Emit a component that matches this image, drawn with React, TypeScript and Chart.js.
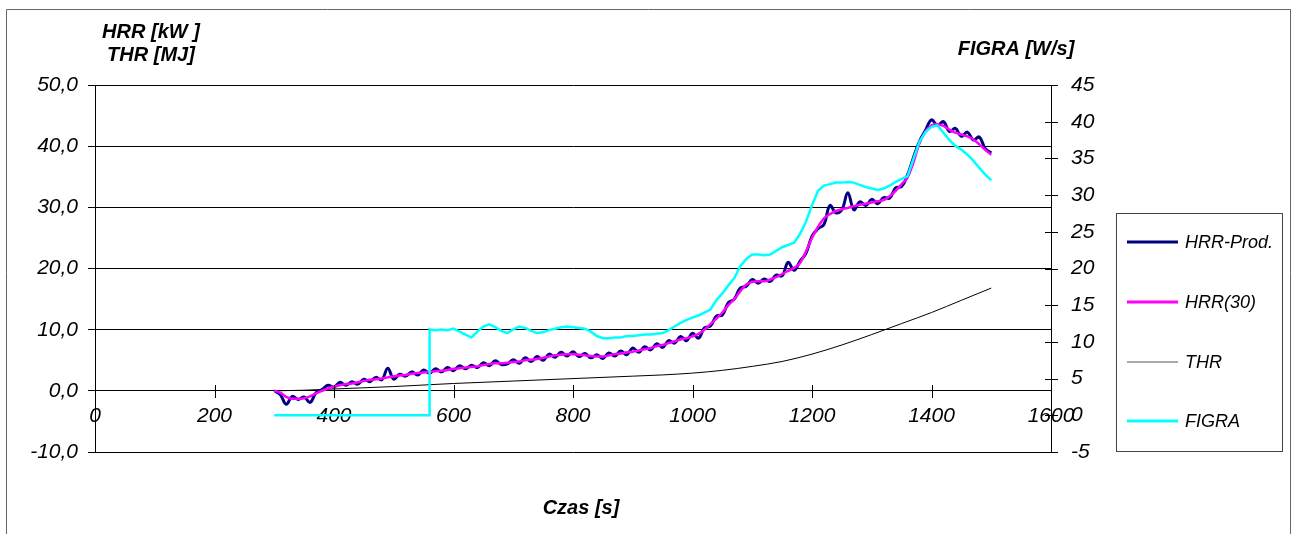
import React, { useEffect, useRef } from "react";
import { Chart, registerables } from "chart.js";

Chart.register(...registerables);

const TIME = [
  300, 310, 320, 330, 340, 350, 360, 370, 380, 390,
  400, 410, 420, 430, 440, 450, 460, 470, 480, 490,
  500, 510, 520, 530, 540, 550, 560, 570, 580, 590,
  600, 610, 620, 630, 640, 650, 660, 670, 680, 690,
  700, 710, 720, 730, 740, 750, 760, 770, 780, 790,
  800, 810, 820, 830, 840, 850, 860, 870, 880, 890,
  900, 910, 920, 930, 940, 950, 960, 970, 980, 990,
  1000, 1010, 1020, 1030, 1040, 1050, 1060, 1070, 1080, 1090,
  1100, 1110, 1120, 1130, 1140, 1150, 1160, 1170, 1180, 1190,
  1200, 1210, 1220, 1230, 1240, 1250, 1260, 1270, 1280, 1290,
  1300, 1310, 1320, 1330, 1340, 1350, 1360, 1370, 1380, 1390,
  1400, 1410, 1420, 1430, 1440, 1450, 1460, 1470, 1480, 1490,
  1500,
];

const HRR_PROD = [
  0.0, -0.6, -2.2, -0.9, -1.4, -1.0, -1.9, -0.3, 0.2, 0.9,
  0.6, 1.4, 0.9, 1.5, 1.1, 1.9, 1.5, 2.2, 1.8, 3.7,
  1.9, 2.7, 2.4, 3.1, 2.6, 3.4, 2.9, 3.6, 3.1, 3.8,
  3.3, 4.1, 3.6, 4.2, 3.8, 4.6, 4.1, 4.9, 4.3, 4.4,
  5.1, 4.5, 5.4, 4.8, 5.6, 5.0, 6.0, 5.5, 6.3, 5.7,
  6.4, 5.6, 6.1, 5.4, 5.9, 5.3, 6.2, 5.7, 6.5, 5.9,
  7.0, 6.3, 7.2, 6.7, 7.7, 7.1, 8.2, 7.8, 8.9, 8.2,
  9.4, 8.6, 10.3, 10.6, 12.2, 12.4, 14.4, 15.0, 16.8, 17.1,
  18.2, 17.6, 18.3, 17.9, 18.9, 18.8, 21.0, 19.7, 21.2, 22.5,
  25.3, 26.5, 27.2, 30.3, 29.1, 29.6, 32.4, 29.6, 30.9, 30.3,
  31.3, 30.6, 31.6, 31.5, 33.2, 33.4, 35.3, 38.2, 40.8, 42.6,
  44.3, 43.4, 44.0, 42.4, 42.9, 41.6, 42.3, 41.0, 41.5, 39.6,
  38.9,
];

const HRR_30 = [
  0.0, -0.3, -1.0, -1.3, -1.3, -1.2, -0.9, -0.4, 0.0, 0.4,
  0.7, 0.9, 1.1, 1.2, 1.4, 1.6, 1.8, 1.9, 2.0, 2.2,
  2.4, 2.5, 2.6, 2.8, 2.9, 3.0, 3.1, 3.2, 3.3, 3.4,
  3.6, 3.7, 3.8, 3.9, 4.0, 4.2, 4.4, 4.5, 4.5, 4.6,
  4.7, 4.8, 5.0, 5.1, 5.2, 5.4, 5.6, 5.8, 5.9, 6.0,
  6.0, 5.9, 5.8, 5.7, 5.6, 5.6, 5.8, 6.0, 6.1, 6.3,
  6.4, 6.6, 6.8, 7.0, 7.3, 7.5, 7.8, 8.1, 8.4, 8.6,
  8.9, 9.3, 10.0, 10.9, 11.8, 12.8, 14.0, 15.0, 16.3, 17.4,
  17.8, 17.9, 17.9, 18.2, 18.6, 19.1, 19.6, 20.1, 20.9, 22.8,
  25.0, 26.8, 28.2, 28.9, 29.4, 29.7, 29.9, 30.2, 30.4, 30.6,
  30.8, 31.0, 31.2, 31.8, 32.7, 33.8, 34.9, 37.4, 40.5, 42.4,
  43.4, 43.6, 43.3, 42.7, 42.2, 41.9, 41.6, 41.1, 40.3, 39.4,
  38.6,
];

const THR_TIME = [300, 350, 400, 450, 500, 560, 600, 700, 800, 900, 950, 1000, 1050, 1100, 1150, 1200, 1250, 1300, 1350, 1400, 1450, 1500];
const THR = [0.0, 0.1, 0.3, 0.5, 0.7, 1.0, 1.2, 1.6, 2.0, 2.4, 2.6, 2.9, 3.35, 4.0, 4.8, 6.0, 7.5, 9.2, 11.0, 12.8, 14.8, 16.8];

const FIGRA_TIME = [
  300, 560, 560, 570, 580, 590,
  600, 610, 620, 630, 640, 650, 660, 670, 680, 690,
  700, 710, 720, 730, 740, 750, 760, 770, 780, 790,
  800, 810, 820, 830, 840, 850, 860, 870, 880, 890,
  900, 910, 920, 930, 940, 950, 960, 970, 980, 990,
  1000, 1010, 1020, 1030, 1040, 1050, 1060, 1070, 1080, 1090,
  1100, 1110, 1120, 1130, 1140, 1150, 1160, 1170, 1180, 1190,
  1200, 1210, 1220, 1230, 1240, 1250, 1260, 1270, 1280, 1290,
  1300, 1310, 1320, 1330, 1340, 1350, 1360, 1370, 1380, 1390,
  1400, 1410, 1420, 1430, 1440, 1450, 1460, 1470, 1480, 1490,
  1500,
];
const FIGRA = [
  0.0, 0.0, 11.7, 11.6, 11.7, 11.6,
  11.8, 11.4, 11.0, 10.6, 11.4, 12.1, 12.4, 12.0, 11.5, 11.2,
  11.7, 12.1, 11.9, 11.5, 11.2, 11.3, 11.6, 11.8, 12.0, 12.1,
  12.0, 11.9, 11.8, 11.4, 10.8, 10.5, 10.5, 10.6, 10.6, 10.8,
  10.8, 10.9, 11.0, 11.0, 11.1, 11.2, 11.6, 12.1, 12.6, 13.0,
  13.3, 13.6, 14.0, 14.4, 15.7, 16.6, 17.7, 18.7, 20.3, 21.3,
  21.9, 21.9, 21.8, 21.9, 22.4, 22.9, 23.2, 23.5, 24.7, 26.4,
  28.6, 30.6, 31.3, 31.5, 31.7, 31.7, 31.8, 31.7, 31.4, 31.1,
  30.9, 30.7, 30.9, 31.3, 31.8, 32.2, 32.6, 35.0, 37.3, 38.6,
  39.3, 39.5, 38.5, 37.5, 36.7, 36.2, 35.5, 34.7, 33.7, 32.8,
  32.0,
];

const SERIES_NAMES = ["HRR-Prod.", "HRR(30)", "THR", "FIGRA"];
const SERIES_COLORS = ["#000080", "#FF00FF", "#000000", "#00FFFF"];
const LEFT_TITLE = ["HRR [kW ]", "THR [MJ]"];
const RIGHT_TITLE = "FIGRA [W/s]";
const X_TITLE = "Czas [s]";

const FONT = '"Liberation Sans", Arial, sans-serif';

const pts = (xs: number[], ys: number[]) => xs.map((x, i) => ({ x, y: ys[i] }));

const decorPlugin = {
  id: "decor",
  afterDraw(chart: any) {
    const ctx = chart.ctx as CanvasRenderingContext2D;
    const xs = chart.scales.x;
    const yl = chart.scales.y;
    const yr = chart.scales.y1;
    ctx.save();
    // outer frame
    ctx.strokeStyle = "#666";
    ctx.lineWidth = 1;
    ctx.beginPath();
    ctx.moveTo(6.5, 600);
    ctx.lineTo(6.5, 9.5);
    ctx.lineTo(1290.5, 9.5);
    ctx.lineTo(1290.5, 600);
    ctx.stroke();

    // crossing ticks on x axis (at y=0)
    ctx.strokeStyle = "#000";
    const y0 = Math.round(yl.getPixelForValue(0));
    ctx.beginPath();
    xs.ticks.forEach((t: any) => {
      const px = Math.round(xs.getPixelForValue(t.value)) + 0.5;
      ctx.moveTo(px, y0 - 6);
      ctx.lineTo(px, y0 + 7);
    });
    // crossing ticks on right axis
    const rx = Math.round(chart.chartArea.right);
    yr.ticks.forEach((t: any) => {
      const py = Math.round(yr.getPixelForValue(t.value)) + 0.5;
      ctx.moveTo(rx - 6, py);
      ctx.lineTo(rx + 7, py);
    });
    ctx.stroke();

    // titles
    ctx.fillStyle = "#000";
    ctx.font = `italic bold 20px ${FONT}`;
    ctx.textAlign = "center";
    ctx.textBaseline = "middle";
    ctx.fillText(LEFT_TITLE[0], 151, 32);
    ctx.fillText(LEFT_TITLE[1], 151, 55);
    ctx.fillText(RIGHT_TITLE, 1016, 49);
    ctx.fillText(X_TITLE, 581, 508);

    // legend
    ctx.strokeStyle = "#444";
    ctx.lineWidth = 1;
    ctx.strokeRect(1116.5, 213.5, 166, 238);
    const ly = [242, 302, 362, 421];
    const lw = [3, 3, 1, 3];
    const lc = ["#000080", "#FF00FF", "#555", "#00FFFF"];
    ctx.font = `italic 18px ${FONT}`;
    ctx.textAlign = "left";
    SERIES_NAMES.forEach((name, i) => {
      ctx.strokeStyle = lc[i];
      ctx.lineWidth = lw[i];
      ctx.beginPath();
      ctx.moveTo(1127, ly[i]);
      ctx.lineTo(1178, ly[i]);
      ctx.stroke();
      ctx.fillStyle = "#000";
      ctx.fillText(name, 1185, ly[i] + 1);
    });
    ctx.restore();
  },
};

export default function App() {
  const ref = useRef<HTMLCanvasElement | null>(null);
  useEffect(() => {
    if (!ref.current) return;
    const chart = new Chart(ref.current, {
      type: "line",
      data: {
        datasets: [
          {
            label: SERIES_NAMES[0],
            data: pts(TIME, HRR_PROD),
            borderColor: SERIES_COLORS[0],
            borderWidth: 3,
            pointRadius: 0,
            tension: 0.4,
            yAxisID: "y",
            order: 3,
          },
          {
            label: SERIES_NAMES[1],
            data: pts(TIME, HRR_30),
            borderColor: SERIES_COLORS[1],
            borderWidth: 2.5,
            pointRadius: 0,
            cubicInterpolationMode: "monotone",
            yAxisID: "y",
            order: 2,
          },
          {
            label: SERIES_NAMES[2],
            data: pts(THR_TIME, THR),
            borderColor: SERIES_COLORS[2],
            borderWidth: 1,
            pointRadius: 0,
            cubicInterpolationMode: "monotone",
            yAxisID: "y",
            order: 4,
          },
          {
            label: SERIES_NAMES[3],
            data: pts(FIGRA_TIME, FIGRA),
            borderColor: SERIES_COLORS[3],
            borderWidth: 2.5,
            pointRadius: 0,
            yAxisID: "y1",
            order: 1,
          },
        ],
      },
      options: {
        responsive: false,
        maintainAspectRatio: false,
        animation: false,
        devicePixelRatio: 1,
        layout: { padding: { top: 85, bottom: 82, left: 0, right: 0 } },
        plugins: { legend: { display: false }, tooltip: { enabled: false } },
        scales: {
          x: {
            type: "linear",
            min: 0,
            max: 1600,
            position: { y: 0 } as any,
            grid: { drawOnChartArea: false, drawTicks: false },
            border: { display: true, color: "#000", width: 1 },
            ticks: {
              stepSize: 200,
              autoSkip: false,
              maxRotation: 0,
              padding: 13,
              color: "#000",
              font: { family: FONT, size: 21, style: "italic" },
              callback: (v: any) => String(v),
            },
          },
          y: {
            type: "linear",
            position: "left",
            min: -10,
            max: 50,
            afterFit: (s: any) => {
              s.width = 95;
            },
            grid: { color: "#000", lineWidth: 1, tickLength: 7 },
            border: { display: true, color: "#000", width: 1 },
            ticks: {
              stepSize: 10,
              padding: 10,
              color: "#000",
              font: { family: FONT, size: 21, style: "italic" },
              callback: (v: any) => Number(v).toFixed(1).replace(".", ","),
            },
          },
          y1: {
            type: "linear",
            position: "right",
            min: -5,
            max: 45,
            afterFit: (s: any) => {
              s.width = 241;
            },
            grid: { display: false, drawTicks: false },
            border: { display: true, color: "#000", width: 1 },
            ticks: {
              stepSize: 5,
              padding: 20,
              color: "#000",
              font: { family: FONT, size: 21, style: "italic" },
              callback: (v: any) => String(v),
            },
          },
        },
      },
      plugins: [decorPlugin],
    });
    return () => chart.destroy();
  }, []);
  return (
    <div style={{ position: "fixed", left: 0, top: 0, width: 1292, height: 534, background: "#fff" }}>
      <canvas ref={ref} width={1292} height={534} style={{ display: "block", width: 1292, height: 534 }} />
    </div>
  );
}
